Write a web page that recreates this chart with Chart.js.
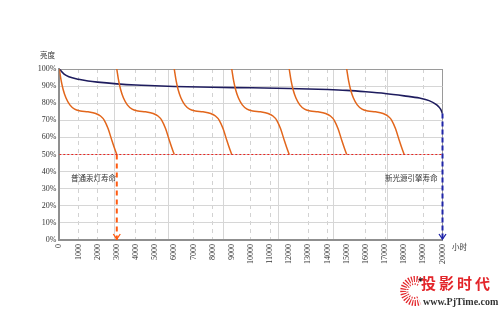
<!DOCTYPE html>
<html>
<head>
<meta charset="utf-8">
<script src="https://cdn.jsdelivr.net/npm/chart.js@4"></script>
<style>
  body { margin: 0; background: #fff; }
  #wrap { position: relative; width: 500px; height: 313px; overflow: hidden; }
  #chart { position: absolute; left: 0; top: 0; }
  .lbl { position: absolute; font-family: "Noto Sans CJK SC", sans-serif; font-size: 7.5px; color: #333; white-space: nowrap; line-height: 1; }
  .wm1 { position: absolute; left: 421px; top: 275px; font-family: "Noto Sans CJK SC", sans-serif; font-weight: bold; font-size: 15px; letter-spacing: 3px; color: #e3262b; line-height: 1; }
  .wm2 { position: absolute; left: 423px; top: 297px; font-family: "Liberation Serif", serif; font-weight: bold; font-size: 10px; color: #333; line-height: 1; }
</style>
</head>
<body>
<div id="wrap">
  <canvas id="chart" width="500" height="313"></canvas>
  <div class="lbl" style="left:40px;top:51px">亮度</div>
  <div class="lbl" style="left:71px;top:174px">普通汞灯寿命</div>
  <div class="lbl" style="left:385px;top:174px">新光源引擎寿命</div>
  <div class="lbl" style="left:452px;top:243px">小时</div>
  <svg style="position:absolute;left:398px;top:276px" width="26" height="30">
    <path d="M22 4 A12 12 0 1 0 22 26" fill="none" stroke="#e3262b" stroke-width="6" stroke-dasharray="1.2 1.4"/>
    <path d="M20 9 A7 7 0 1 0 20 21" fill="none" stroke="#e3262b" stroke-width="2" stroke-dasharray="1 1.5"/>
    <path d="M20 3 L25 2 L23 6 Z" fill="#222"/>
  </svg>
  <div class="wm1">投影时代</div>
  <div class="wm2">www.PjTime.com</div>
</div>
<script>
// brightness of the new light engine (%), by hours
const engineHours = [0, 250, 500, 1000, 1500, 2000, 3000, 4000, 5000, 6000, 8000, 10000, 12000, 14000, 15000, 16000, 17000, 18000, 18800, 19300, 19700, 19900, 20000];
const engineLevel = [100, 97, 95.5, 94, 93, 92.3, 91.3, 90.6, 90.2, 89.8, 89.3, 89, 88.6, 88, 87.5, 86.7, 85.7, 84.3, 83, 81.5, 79, 76.5, 74];

// one mercury lamp life cycle (hours since lamp change, %)
const lampHours = [0, 100, 200, 350, 550, 800, 1100, 1500, 1900, 2150, 2350, 2550, 2750, 2900, 3000];
const lampLevel = [100, 93, 88, 83, 79, 76.5, 75.5, 75, 74, 72.5, 70, 65, 58, 53, 50];
// hours at which a new lamp was fitted
const lampStarts = [0, 3000, 6000, 9000, 12000, 15000];

const xTicks = [0, 20000, 1000];   // min, max, step
const yTicks = [0, 100, 10];
const lampEnd = 3000;
const engineEnd = 20000;
const halfLevel = 50;

const lampSets = lampStarts.map(s => ({
    data: lampHours.map((h, i) => ({ x: s + h, y: lampLevel[i] })),
    borderColor: '#e2661c',
    borderWidth: 1.5,
    cubicInterpolationMode: 'monotone'
}));

const datasets = [
    {
        data: [{ x: 0, y: halfLevel }, { x: engineEnd, y: halfLevel }],
        borderColor: '#e8231f', borderWidth: 1.2, borderDash: [2, 2]
    },
    ...lampSets,
    {
        data: engineHours.map((h, i) => ({ x: h, y: engineLevel[i] })),
        borderColor: '#1e1c5e', borderWidth: 1.6, cubicInterpolationMode: 'monotone'
    },
    {
        data: [{ x: lampEnd, y: halfLevel }, { x: lampEnd, y: 0 }],
        borderColor: '#ff5a10', borderWidth: 2, borderDash: [5, 4], clip: 6, arrow: true
    },
    {
        data: [{ x: engineEnd, y: engineLevel[engineLevel.length - 1] }, { x: engineEnd, y: 0 }],
        borderColor: '#1f24a8', borderWidth: 2, borderDash: [5, 3], clip: 6, arrow: true
    }
];

// open chevron at the end of the arrow datasets
const arrowHeads = {
    id: 'arrowHeads',
    afterDatasetsDraw(chart) {
        const ctx = chart.ctx;
        const xs = chart.scales.x, ys = chart.scales.y;
        chart.data.datasets.forEach(ds => {
            if (!ds.arrow) return;
            const p = ds.data[ds.data.length - 1];
            const px = xs.getPixelForValue(p.x), py = ys.getPixelForValue(p.y) - 1;
            ctx.save();
            ctx.strokeStyle = ds.borderColor;
            ctx.lineWidth = 1.3;
            ctx.beginPath();
            ctx.moveTo(px - 3.5, py - 5);
            ctx.lineTo(px, py);
            ctx.lineTo(px + 3.5, py - 5);
            ctx.stroke();
            ctx.restore();
        });
    }
};

const tickFont = { family: 'Liberation Serif', size: 8 };
const clear = 'rgba(0,0,0,0)';

new Chart(document.getElementById('chart'), {
    type: 'line',
    data: { datasets: datasets },
    options: {
        responsive: false,
        animation: false,
        layout: { padding: { top: 69, right: 57.5, left: 0, bottom: 0 } },
        plugins: { legend: { display: false }, tooltip: { enabled: false } },
        elements: { point: { radius: 0 } },
        scales: {
            x: {
                type: 'linear', min: xTicks[0], max: xTicks[1],
                ticks: { stepSize: xTicks[2], minRotation: 90, maxRotation: 90, font: tickFont, color: '#333', padding: 4, callback: v => String(v) },
                grid: {
                    drawTicks: false,
                    color: c => (c.tick.value % 3000 === 0 || c.tick.value === engineEnd) ? clear : '#d2d2d2',
                    lineWidth: 1
                },
                border: { color: '#8f8f8f', width: 2, dash: [4, 4] },
                afterFit: s => { s.height = 73; s.paddingLeft = 0; s.paddingRight = 0; }
            },
            // solid vertical lines every 3000 h and the right frame
            x2: {
                type: 'linear', position: 'top', min: xTicks[0], max: xTicks[1],
                ticks: { display: false, stepSize: 3000 },
                grid: {
                    drawTicks: false,
                    color: c => c.tick.value === 0 ? clear : (c.tick.value === engineEnd ? '#9a9a9a' : '#d6d6d6'),
                    lineWidth: 1
                },
                border: { display: false },
                afterFit: s => { s.height = 0; s.paddingLeft = 0; s.paddingRight = 0; }
            },
            y: {
                min: yTicks[0], max: yTicks[1],
                ticks: { stepSize: yTicks[2], callback: v => v + '%', font: tickFont, color: '#333', padding: 3 },
                grid: {
                    drawTicks: false,
                    color: c => c.tick.value === 100 ? '#9a9a9a' : (c.tick.value === 0 ? clear : '#d6d6d6'),
                    lineWidth: 1
                },
                border: { color: '#8f8f8f', width: 2 },
                afterFit: s => { s.width = 59.3; s.paddingTop = 0; s.paddingBottom = 0; }
            }
        }
    },
    plugins: [arrowHeads]
});
</script>
</body>
</html>
